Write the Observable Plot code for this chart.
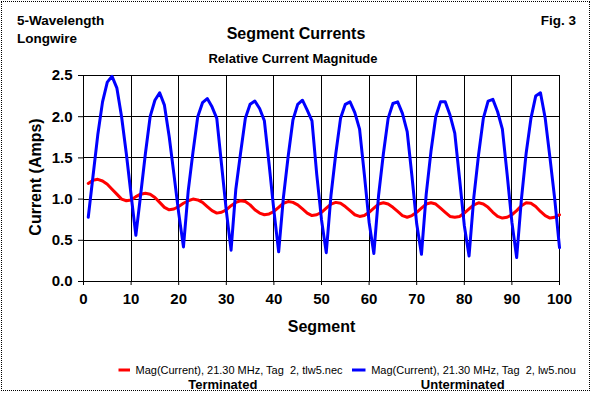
<!DOCTYPE html>
<html><head><meta charset="utf-8">
<script src="https://cdn.jsdelivr.net/npm/d3@7"></script>
<script src="https://cdn.jsdelivr.net/npm/@observablehq/plot@0.6"></script>
<style>
html,body{margin:0;padding:0;background:#fff;}
#chart{position:relative;width:592px;height:394px;overflow:hidden;}
#border{position:absolute;left:1px;top:1px;width:587px;height:388px;border:1px dotted #000;pointer-events:none;}
</style></head><body><div id="chart"><div id="border"></div></div>
<script>
const segments = [1,2,3,4,5,6,7,8,9,10,11,12,13,14,15,16,17,18,19,20,21,22,23,24,25,26,27,28,29,30,
31,32,33,34,35,36,37,38,39,40,41,42,43,44,45,46,47,48,49,50,51,52,53,54,55,56,57,58,59,60,
61,62,63,64,65,66,67,68,69,70,71,72,73,74,75,76,77,78,79,80,81,82,83,84,85,86,87,88,89,90,
91,92,93,94,95,96,97,98,99,100];

const terminated = [
1.19,1.23,1.24,1.22,1.18,1.12,1.06,1.00,0.98,0.99,
1.03,1.06,1.07,1.06,1.02,0.96,0.90,0.87,0.88,0.91,
0.95,0.98,1.00,0.99,0.96,0.91,0.86,0.83,0.84,0.87,
0.92,0.96,0.98,0.97,0.93,0.87,0.83,0.81,0.82,0.85,
0.90,0.95,0.97,0.96,0.93,0.88,0.83,0.80,0.81,0.84,
0.89,0.94,0.96,0.95,0.91,0.86,0.81,0.79,0.80,0.84,
0.89,0.94,0.955,0.94,0.90,0.85,0.80,0.78,0.80,0.84,
0.89,0.94,0.955,0.94,0.89,0.84,0.79,0.78,0.79,0.83,
0.88,0.93,0.955,0.94,0.90,0.84,0.79,0.77,0.78,0.81,
0.86,0.92,0.955,0.95,0.91,0.85,0.80,0.77,0.78,0.81];

const unterminated = [
0.78,1.28,1.78,2.18,2.42,2.49,2.35,2.00,1.55,1.05,
0.56,1.05,1.55,2.00,2.20,2.29,2.14,1.76,1.30,0.83,
0.42,1.10,1.57,2.00,2.17,2.22,2.12,1.98,1.42,0.86,
0.38,1.12,1.56,1.98,2.15,2.19,2.10,1.95,1.42,0.86,
0.36,1.02,1.52,1.96,2.15,2.20,2.08,1.95,1.30,0.75,
0.35,1.05,1.55,1.98,2.15,2.18,2.05,1.85,1.30,0.72,
0.34,1.05,1.55,1.98,2.16,2.18,2.04,1.82,1.28,0.70,
0.33,1.06,1.58,2.00,2.18,2.18,2.02,1.80,1.25,0.68,
0.31,1.02,1.54,1.98,2.19,2.21,2.06,1.85,1.30,0.72,
0.29,1.00,1.56,1.98,2.25,2.29,1.98,1.50,1.00,0.41];

const xTicks = [0,10,20,30,40,50,60,70,80,90,100];
const yTicks = [0,0.5,1.0,1.5,2.0,2.5];
const seriesNames = ["Mag(Current), 21.30 MHz, Tag  2, tlw5.nec", "Mag(Current), 21.30 MHz, Tag  2, lw5.nou"];
const seriesTags = ["Terminated", "Unterminated"];
const seriesColors = ["#ff0000", "#0000ff"];

const termData = segments.map((s, i) => ({seg: s, value: terminated[i]}));
const untermData = segments.map((s, i) => ({seg: s, value: unterminated[i]}));

const FONT = "'Liberation Sans', Arial, Helvetica, sans-serif";

const svg = Plot.plot({
  width: 592, height: 394,
  marginLeft: 83, marginRight: 33, marginTop: 75, marginBottom: 113,
  style: {fontFamily: FONT, fontSize: "15px", fontWeight: "bold", color: "#000", background: "transparent", overflow: "visible"},
  x: {domain: [0, 100], ticks: xTicks, tickSize: 4, tickPadding: 8, label: null, tickFormat: d3.format("d")},
  y: {domain: [0, 2.5], ticks: yTicks, tickSize: 5, tickPadding: 6, label: null, tickFormat: d3.format(".1f")},
  marks: [
    Plot.ruleX(xTicks, {stroke: "#000", strokeWidth: 1, shapeRendering: "crispEdges"}),
    Plot.ruleY(yTicks, {stroke: "#000", strokeWidth: 1, shapeRendering: "crispEdges"}),
    Plot.frame({stroke: "#000", shapeRendering: "crispEdges"}),
    Plot.line(termData, {x: "seg", y: "value", stroke: seriesColors[0], strokeWidth: 3}),
    Plot.line(untermData, {x: "seg", y: "value", stroke: seriesColors[1], strokeWidth: 3})
  ]
});
svg.style.position = "absolute";
svg.style.left = "0px";
svg.style.top = "0px";
document.getElementById("chart").prepend(svg);

const s = d3.select(svg);
function txt(x, y, str, size, weight, anchor, transform) {
  const t = s.append("text")
    .attr("x", x).attr("y", y)
    .attr("font-family", FONT)
    .attr("font-size", size)
    .attr("font-weight", weight)
    .attr("text-anchor", anchor)
    .attr("fill", "#000")
    .style("white-space", "pre")
    .text(str);
  if (transform) t.attr("transform", transform);
  return t;
}
txt(17, 25, "5-Wavelength", 13.5, "bold", "start");
txt(17, 43, "Longwire", 13.5, "bold", "start");
txt(576, 25, "Fig. 3", 13.5, "bold", "end");
txt(296, 39, "Segment Currents", 16, "bold", "middle");
txt(293, 62.5, "Relative Current Magnitude", 13, "bold", "middle");
txt(0, 0, "Current (Amps)", 16, "bold", "middle", "translate(40.8,177) rotate(-90)");
txt(321.5, 332, "Segment", 16, "bold", "middle");

// legend
const legX = [[118.5, 130, 135.5], [352, 365.5, 371.2]];
seriesNames.forEach((name, i) => {
  s.append("line").attr("x1", legX[i][0]).attr("x2", legX[i][1]).attr("y1", 370).attr("y2", 370)
    .attr("stroke", seriesColors[i]).attr("stroke-width", 3);
  txt(legX[i][2], 373.5, name, 11, "normal", "start");
});
txt(222.8, 388.5, seriesTags[0], 13, "bold", "middle");
txt(462.7, 388.5, seriesTags[1], 13, "bold", "middle");
</script></body></html>
